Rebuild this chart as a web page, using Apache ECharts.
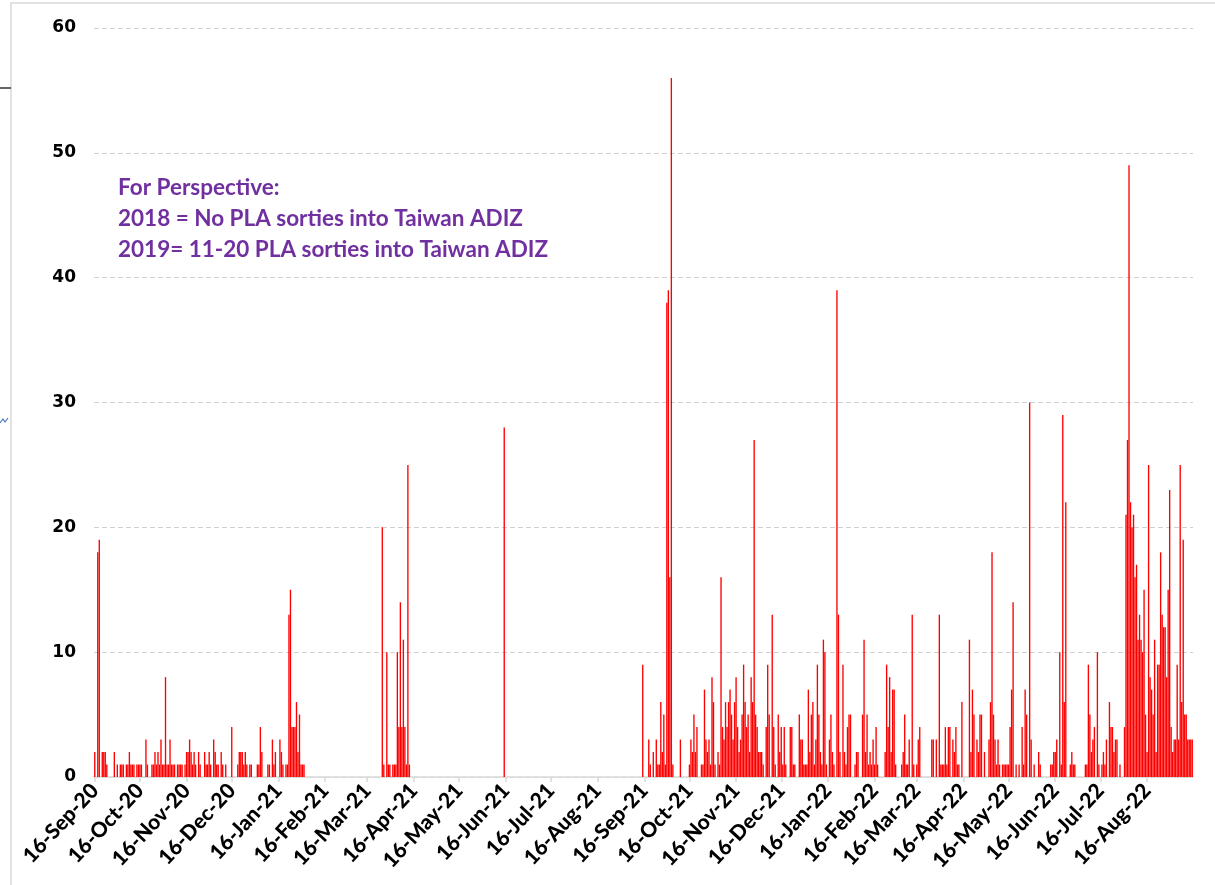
<!DOCTYPE html>
<html>
<head>
<meta charset="utf-8">
<script src="https://cdn.jsdelivr.net/npm/echarts@6/dist/echarts.min.js"></script>
<style>
html,body{margin:0;padding:0;background:#fff;}
#chart{width:1215px;height:885px;}
</style>
</head>
<body>
<div id="chart"></div>
<script>
// Daily PLA sorties into Taiwan ADIZ, 16-Sep-2020 .. 15-Sep-2022
const startDay = '2020-09-16';
const dayCount = 730;
const monthNames = ['Jan','Feb','Mar','Apr','May','Jun','Jul','Aug','Sep','Oct','Nov','Dec'];

const tickLabels = ['16-Sep-20','16-Oct-20','16-Nov-20','16-Dec-20','16-Jan-21','16-Feb-21','16-Mar-21','16-Apr-21',
  '16-May-21','16-Jun-21','16-Jul-21','16-Aug-21','16-Sep-21','16-Oct-21','16-Nov-21','16-Dec-21','16-Jan-22',
  '16-Feb-22','16-Mar-22','16-Apr-22','16-May-22','16-Jun-22','16-Jul-22','16-Aug-22'];

const yTicks = [0, 10, 20, 30, 40, 50, 60];

// 16-Sep-2020 .. 31-Dec-2020
const sorties2020 = [
  2,0,18,19,0,2,2,2,1,0, 0,0,0,2,0,1,0,1,1,1, 0,1,1,2,1,1,1,0,1,1,
  1,1,0,0,3,1,0,0,1,1, 2,1,2,1,3,1,1,8,1,1, 3,1,1,1,0,1,1,1,1,0,
  1,2,2,3,2,1,2,1,0,2, 1,0,0,2,1,1,2,1,0,3, 2,1,1,0,2,1,0,1,0,0,
  0,4,0,0,0,1,2,2,2,1, 2,1,0,1,1,0,0
];

// 01-Jan-2021 .. 31-Dec-2021
const sorties2021 = [
  0,1,1,4,2,0,0,0,1,1, 0,3,1,2,0,0,3,2,1,0, 1,1,13,15,4,4,4,6,2,5,
  1,1,1,0,0,0,0,0,0,0, 0,0,0,0,0,0,0,0,0,0, 0,0,0,0,0,0,0,0,0,0,
  0,0,0,0,0,0,0,0,0,0, 0,0,0,0,0,0,0,0,0,0, 0,0,0,0,20,1,0,10,1,1,
  0,1,1,1,10,4,14,4,11,4, 1,25,1,0,0,0,0,0,0,0, 0,0,0,0,0,0,0,0,0,0,
  0,0,0,0,0,0,0,0,0,0, 0,0,0,0,0,0,0,0,0,0, 0,0,0,0,0,0,0,0,0,0,
  0,0,0,0,0,0,0,0,0,0, 0,0,0,0,0,28,0,0,0,0, 0,0,0,0,0,0,0,0,0,0,
  0,0,0,0,0,0,0,0,0,0, 0,0,0,0,0,0,0,0,0,0, 0,0,0,0,0,0,0,0,0,0,
  0,0,0,0,0,0,0,0,0,0, 0,0,0,0,0,0,0,0,0,0, 0,0,0,0,0,0,0,0,0,0,
  0,0,0,0,0,0,0,0,0,0, 0,0,0,0,0,0,0,9,0,0, 0,3,1,0,2,0,3,1,1,6,
  2,5,1,38,39,16,56,1,0,0, 0,0,3,0,0,0,0,0,1,3, 2,5,2,4,0,0,1,1,7,3,
  2,3,1,8,6,1,0,2,1,16, 4,3,6,4,6,7,5,3,6,8, 4,2,3,5,9,6,4,5,2,8,
  6,27,5,4,2,2,2,1,0,4, 9,5,0,13,4,1,0,5,2,4, 1,4,1,0,0,4,4,1,1,0,
  0,5,3,3,1
];

// 01-Jan-2022 .. 15-Sep-2022
const sorties2022 = [
  1,1,7,2,5,6,1,3,9,5, 2,1,11,10,1,0,3,5,2,1, 0,39,13,2,0,9,2,1,4,5,
  5,0,0,1,2,2,0,0,5,11, 2,5,1,2,1,3,1,4,1,0, 0,0,0,2,9,4,8,2,7,7,
  1,0,0,0,1,2,5,1,1,3, 0,13,1,0,1,3,4,0,0,0, 0,0,0,0,3,3,0,3,0,13,
  1,1,1,4,1,4,4,0,3,2, 4,1,1,0,6,0,0,0,0,11, 2,7,5,0,3,2,5,5,0,2,
  0,0,3,6,18,5,3,1,3,1, 0,1,1,1,1,1,4,7,14,0, 1,0,1,0,4,1,7,5,0,30,
  3,0,1,0,0,2,1,0,0,0, 0,0,0,1,1,2,2,3,0,10, 1,29,6,22,0,0,1,2,1,1,
  0,0,0,0,0,0,1,1,9,5, 2,3,4,0,10,1,0,1,2,1, 3,0,6,4,4,2,3,3,0,1,
  0,0,4,21,27,49,22,20,21,16, 17,11,13,11,10,15,5,2,25,8, 7,5,11,2,9,9,18,13,12,12,
  8,15,23,4,2,3,3,9,3,25, 6,19,5,5,3,3,3,3
];

const annotationLines = [
  'For Perspective:',
  '2018 = No PLA sorties into Taiwan ADIZ',
  '2019= 11-20 PLA sorties into Taiwan ADIZ'
];

const values = [].concat(sorties2020, sorties2021, sorties2022);

const categories = [];
const t0 = Date.parse(startDay + 'T00:00:00Z');
for (let i = 0; i < dayCount; i++) {
  const d = new Date(t0 + i * 86400000);
  categories.push(d.getUTCDate() + '-' + monthNames[d.getUTCMonth()] + '-' + String(d.getUTCFullYear()).slice(2));
}
const tickSet = new Set(tickLabels);

const chart = echarts.init(document.getElementById('chart'), null, {renderer: 'canvas'});
chart.setOption({
  animation: false,
  backgroundColor: '#ffffff',
  grid: {left: 94, right: 22, top: 28, bottom: 108, containLabel: false, outerBoundsMode: 'none'},
  xAxis: {
    type: 'category',
    data: categories,
    boundaryGap: true,
    axisLine: {lineStyle: {color: '#d9d9d9', width: 1.5}},
    axisTick: {
      show: true,
      alignWithLabel: true,
      length: 5,
      interval: (idx, val) => tickSet.has(val),
      lineStyle: {color: '#d9d9d9', width: 1.5}
    },
    axisLabel: {
      interval: (idx, val) => tickSet.has(val),
      rotate: 47,
      margin: 10,
      color: '#000',
      fontFamily: 'Lato',
      fontWeight: 900,
      fontSize: 21
    },
    splitLine: {show: false}
  },
  yAxis: {
    type: 'value',
    min: yTicks[0],
    max: yTicks[yTicks.length - 1],
    interval: 10,
    axisLine: {show: false},
    axisTick: {show: false},
    axisLabel: {
      margin: 18,
      color: '#000',
      fontFamily: 'DejaVu Sans',
      fontWeight: 'bold',
      fontSize: 17
    },
    splitLine: {lineStyle: {color: '#d0d0d0', type: [5, 3], width: 1}}
  },
  series: [{
    type: 'bar',
    data: values,
    barCategoryGap: '10%',
    itemStyle: {color: '#ff0000'},
    large: false
  }],
  graphic: [
    {type: 'rect', shape: {x: 11, y: 3, width: 1400, height: 1000}, style: {fill: 'none', stroke: '#d9d9d9', lineWidth: 1.5}, silent: true},
    {type: 'line', shape: {x1: 0, y1: 88, x2: 11, y2: 88}, style: {stroke: '#333', lineWidth: 1.5}, silent: true},
    {type: 'polyline', shape: {points: [[0, 423], [3, 419], [5, 422], [8, 418]]}, style: {stroke: '#4a7fc8', lineWidth: 1.2, fill: 'none'}, silent: true},
    {
      type: 'text', left: 118, top: 172,
      style: {
        text: annotationLines.join('\n'),
        fill: '#7030a0',
        font: 'bold 22.5px Lato',
        lineHeight: 31
      },
      silent: true
    }
  ]
});
</script>
</body>
</html>
